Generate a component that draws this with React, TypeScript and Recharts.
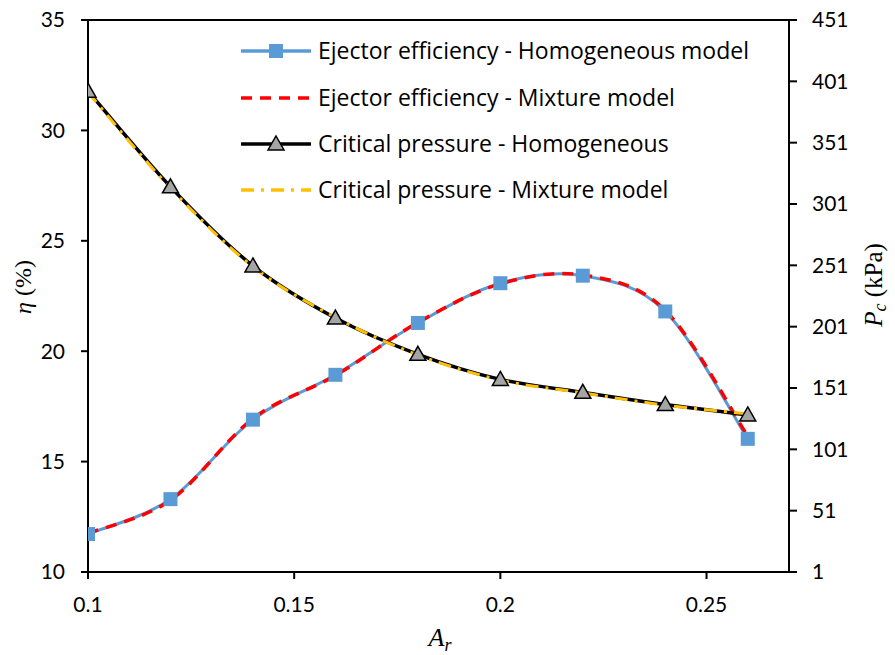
import React from 'react'
import { LineChart, Line, XAxis, YAxis, ReferenceLine } from 'recharts'

const areaRatio = [0.1, 0.12, 0.14, 0.16, 0.18, 0.2, 0.22, 0.24, 0.26]
const effHomogeneous = [11.72, 13.3, 16.9, 18.93, 21.28, 23.08, 23.42, 21.8, 16.03]
const effMixture = [11.75, 13.25, 16.95, 18.9, 21.3, 23.05, 23.45, 21.85, 16.15]
const pcHomogeneous = [393, 315, 250.5, 208, 178.5, 158, 147.5, 137.5, 129]
const pcMixture = [392, 314, 250, 208.5, 178, 157.5, 147, 137, 130]

const xTicks = [0.1, 0.15, 0.2, 0.25]
const etaTicks = [10, 15, 20, 25, 30, 35]
const pcTicks = [1, 51, 101, 151, 201, 251, 301, 351, 401, 451]

const BLUE = '#5B9BD5'
const RED = '#FF0000'
const GOLD = '#FFC000'
const GREY = '#A5A5A5'

// smoothed line like the spreadsheet one (catmull-rom through every point)
const smooth = (context: any) => {
  let pts: number[][] = []
  return {
    areaStart() {},
    areaEnd() {},
    lineStart() {
      pts = []
    },
    point(x: number, y: number) {
      pts.push([+x, +y])
    },
    lineEnd() {
      if (!pts.length) return
      context.moveTo(pts[0][0], pts[0][1])
      for (let i = 0; i < pts.length - 1; i++) {
        const p0 = pts[Math.max(i - 1, 0)]
        const p1 = pts[i]
        const p2 = pts[i + 1]
        const p3 = pts[Math.min(i + 2, pts.length - 1)]
        context.bezierCurveTo(
          p1[0] + (p2[0] - p0[0]) / 6,
          p1[1] + (p2[1] - p0[1]) / 6,
          p2[0] - (p3[0] - p1[0]) / 6,
          p2[1] - (p3[1] - p1[1]) / 6,
          p2[0],
          p2[1]
        )
      }
    },
  }
}

const chartData = areaRatio.map((ar, i) => ({
  ar,
  effHom: effHomogeneous[i],
  effMix: effMixture[i],
  pcHom: pcHomogeneous[i],
  pcMix: pcMixture[i],
}))

const Square = (props: any) => {
  const { cx, cy, index } = props
  return <rect key={`sq-${index}`} x={cx - 7} y={cy - 7} width={14} height={14} fill={BLUE} />
}

const Triangle = (props: any) => {
  const { cx, cy, index } = props
  return (
    <polygon
      key={`tr-${index}`}
      points={`${cx},${cy - 8} ${cx + 8},${cy + 6} ${cx - 8},${cy + 6}`}
      fill={GREY}
      stroke="#000"
      strokeWidth={1.5}
    />
  )
}

const tickStyle = { fill: '#000', fontSize: 21, fontFamily: 'Lato' }
const axisStroke = { stroke: '#000', strokeWidth: 2 }

const legendRows = [
  { label: 'Ejector efficiency - Homogeneous model', color: BLUE, dash: undefined, marker: 'square' },
  { label: 'Ejector efficiency - Mixture model', color: RED, dash: '11 8', marker: '' },
  { label: 'Critical pressure - Homogeneous', color: '#000', dash: undefined, marker: 'triangle' },
  { label: 'Critical pressure - Mixture model', color: GOLD, dash: '13 7 3 7', marker: '' },
]
const legendY = [51, 98, 144, 190]

export default function App() {
  return (
    <div style={{ position: 'absolute', left: 0, top: 0, width: 895, height: 655, background: '#fff' }}>
      <LineChart width={895} height={655} data={chartData} margin={{ top: 20, right: 0, left: 0, bottom: 0 }}>
        <XAxis
          dataKey="ar"
          type="number"
          domain={[0.1, 0.27]}
          ticks={xTicks}
          tickFormatter={(v) => String(v)}
          height={83}
          tick={tickStyle}
          tickSize={7}
          tickMargin={18}
          axisLine={axisStroke}
          tickLine={axisStroke}
          allowDataOverflow
        />
        <YAxis
          yAxisId="eta"
          domain={[10, 35]}
          ticks={etaTicks}
          width={88}
          tick={tickStyle}
          tickSize={7}
          tickMargin={16}
          axisLine={axisStroke}
          tickLine={axisStroke}
          interval={0}
        />
        <YAxis
          yAxisId="pc"
          orientation="right"
          domain={[1, 451]}
          ticks={pcTicks}
          width={106}
          tick={tickStyle}
          tickSize={8}
          tickMargin={15}
          axisLine={axisStroke}
          tickLine={axisStroke}
          interval={0}
        />
        <ReferenceLine yAxisId="eta" y={35} stroke="#000" strokeWidth={2} />
        <Line
          yAxisId="eta"
          dataKey="effHom"
          type={smooth as any}
          stroke={BLUE}
          strokeWidth={3}
          dot={Square}
          isAnimationActive={false}
        />
        <Line
          yAxisId="eta"
          dataKey="effMix"
          type={smooth as any}
          stroke={RED}
          strokeWidth={3.5}
          strokeDasharray="11 8"
          dot={false}
          isAnimationActive={false}
        />
        <Line
          yAxisId="pc"
          dataKey="pcHom"
          type={smooth as any}
          stroke="#000"
          strokeWidth={3.5}
          dot={Triangle}
          isAnimationActive={false}
        />
        <Line
          yAxisId="pc"
          dataKey="pcMix"
          type={smooth as any}
          stroke={GOLD}
          strokeWidth={3}
          strokeDasharray="13 7 3 7"
          dot={false}
          isAnimationActive={false}
        />
      </LineChart>
      <svg width={895} height={655} style={{ position: 'absolute', left: 0, top: 0, pointerEvents: 'none' }}>
        {legendRows.map((row, i) => {
          const y = legendY[i]
          return (
            <g key={row.label}>
              <line x1={241} x2={311} y1={y} y2={y} stroke={row.color} strokeWidth={3.5} strokeDasharray={row.dash} />
              {row.marker === 'square' && <rect x={269} y={y - 7} width={14} height={14} fill={BLUE} />}
              {row.marker === 'triangle' && (
                <polygon
                  points={`276,${y - 8} 284,${y + 6} 268,${y + 6}`}
                  fill={GREY}
                  stroke="#000"
                  strokeWidth={1.5}
                />
              )}
              <text x={318} y={y + 8} fontFamily="Open Sans" fontSize={23} fill="#000">
                {row.label}
              </text>
            </g>
          )
        })}
        <text
          transform="translate(31,287) rotate(-90)"
          textAnchor="middle"
          fontFamily="Liberation Serif"
          fontSize={24}
          fill="#000"
        >
          <tspan fontStyle="italic">η</tspan>
          <tspan> (%)</tspan>
        </text>
        <text
          transform="translate(882,285) rotate(-90)"
          textAnchor="middle"
          fontFamily="Liberation Serif"
          fontSize={25}
          fill="#000"
        >
          <tspan fontStyle="italic">P</tspan>
          <tspan fontStyle="italic" fontSize={18} dy={4}>c</tspan>
          <tspan dy={-4}> (kPa)</tspan>
        </text>
        <text x={440} y={646} textAnchor="middle" fontFamily="Liberation Serif" fontSize={26} fill="#000">
          <tspan fontStyle="italic">A</tspan>
          <tspan fontStyle="italic" fontSize={18} dy={5}>r</tspan>
        </text>
      </svg>
    </div>
  )
}
